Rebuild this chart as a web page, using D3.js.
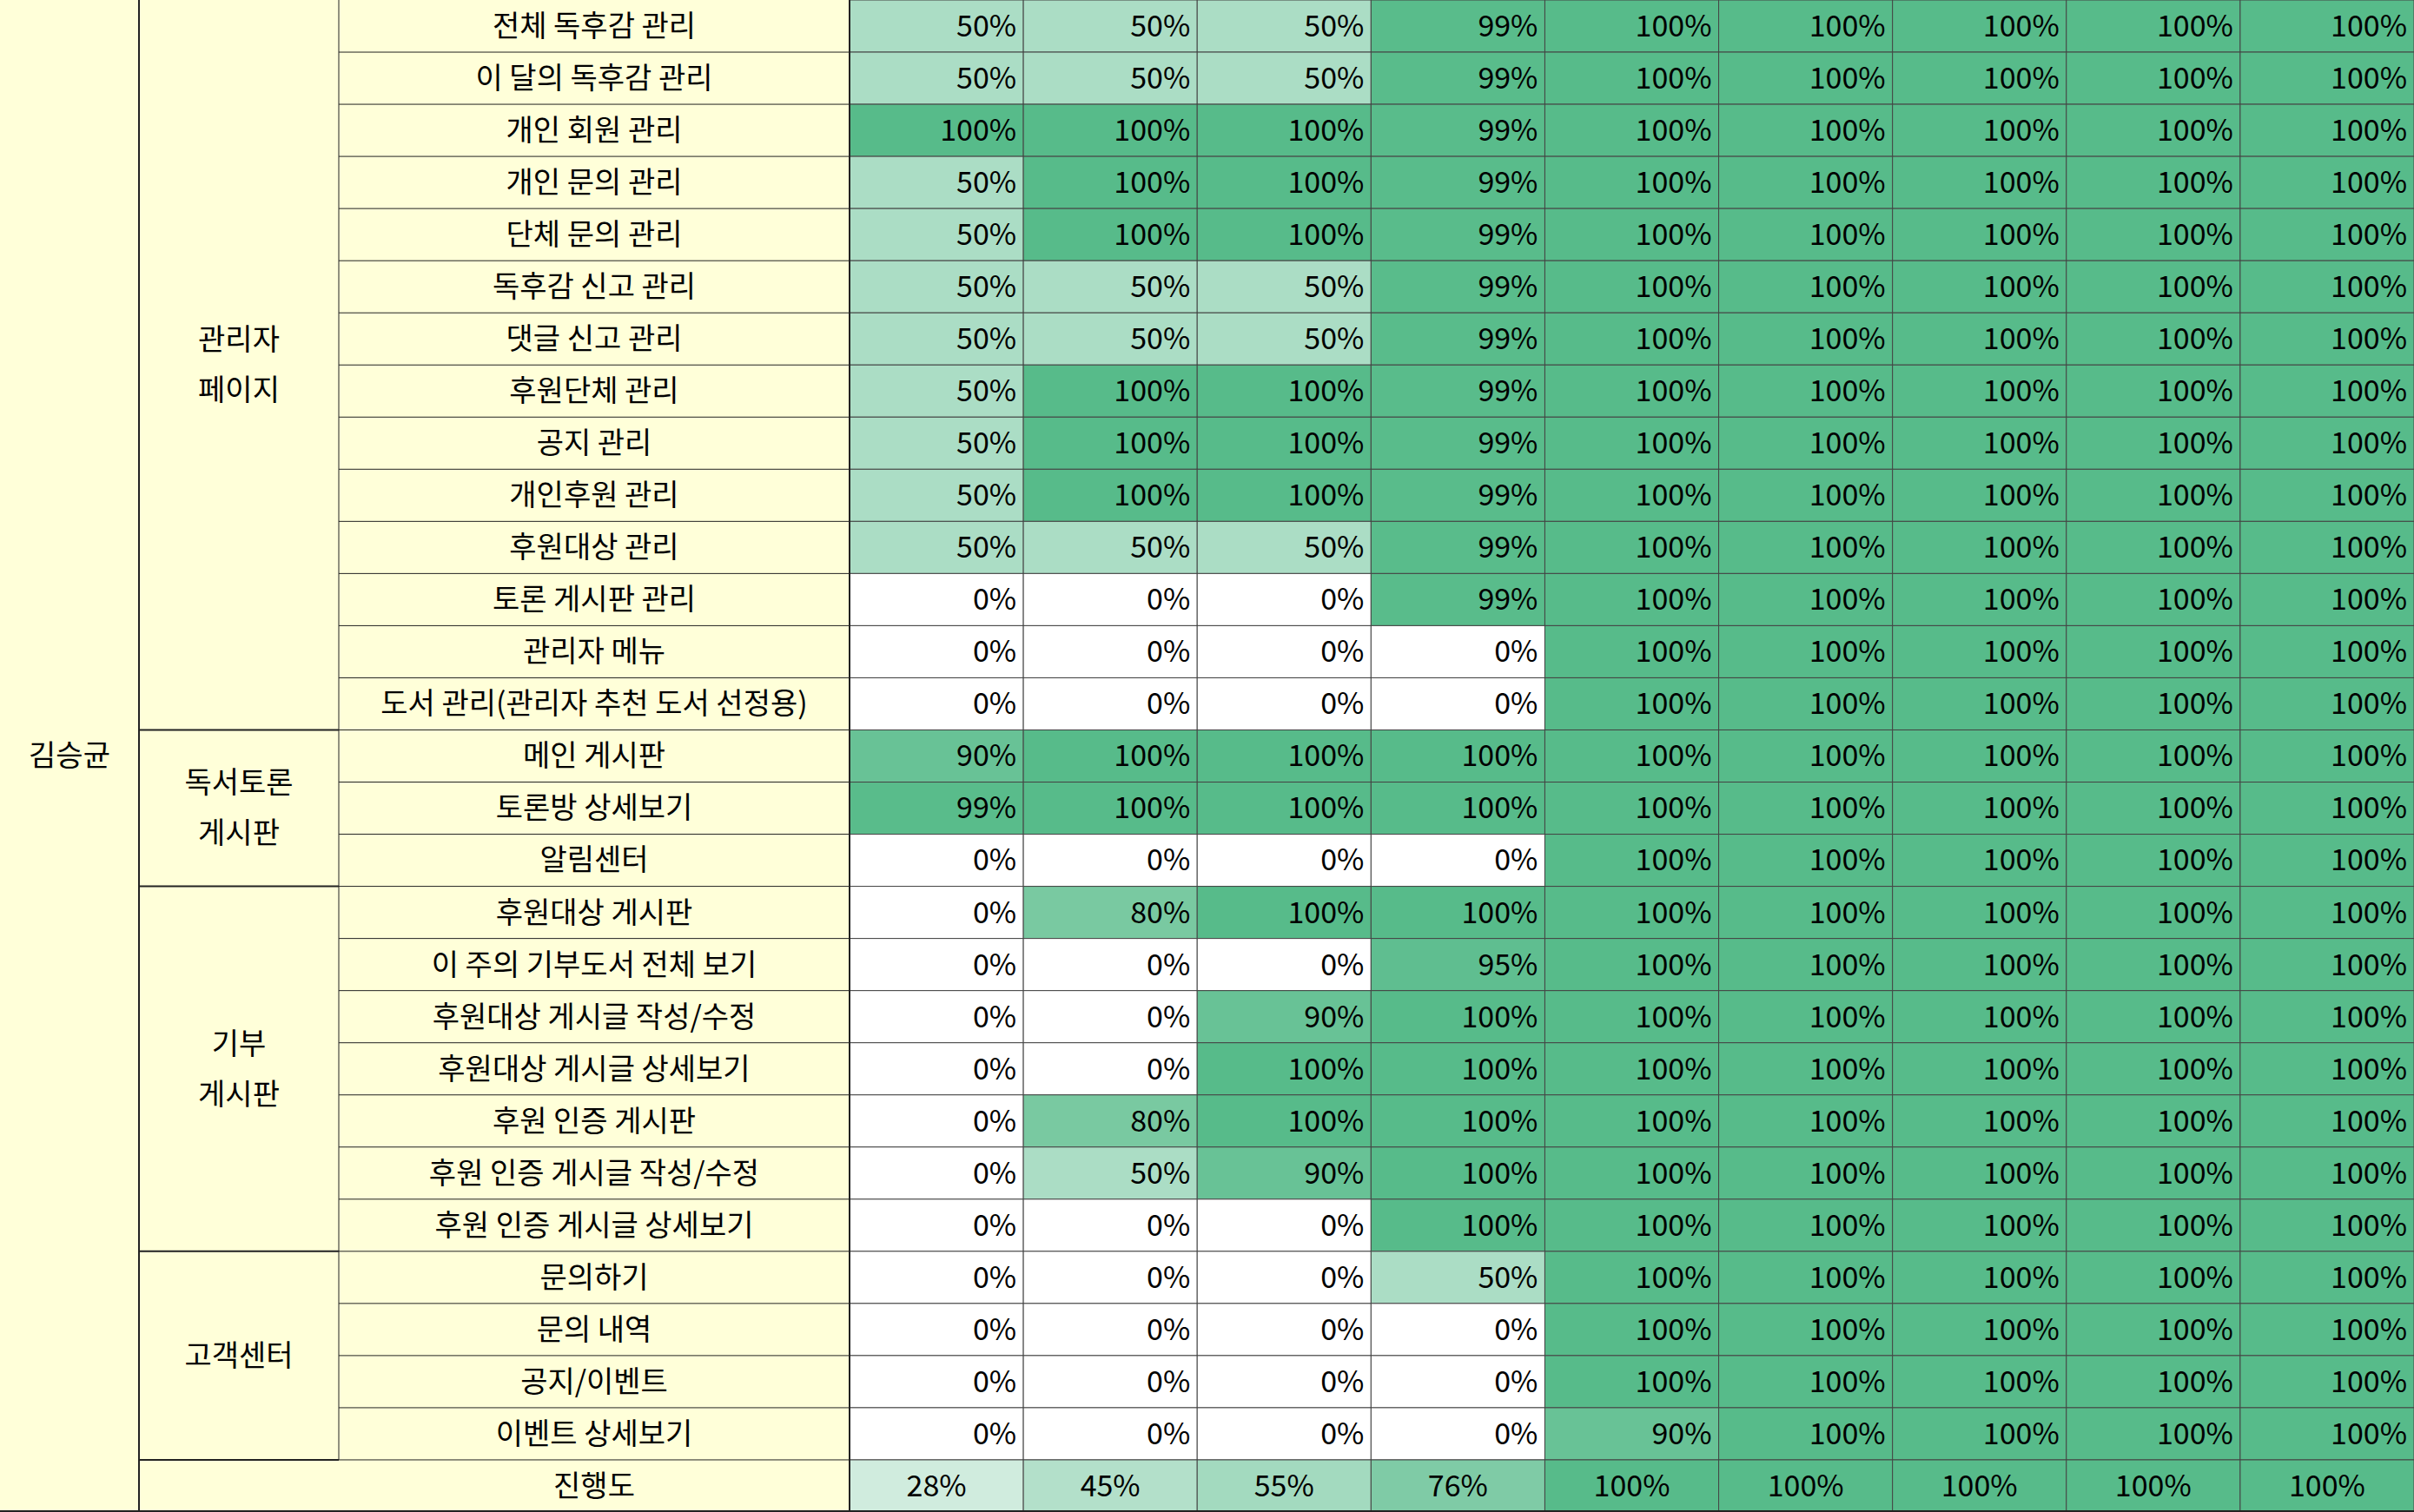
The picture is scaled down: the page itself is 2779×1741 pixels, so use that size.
<!DOCTYPE html><html><head><meta charset="utf-8">
<script src="https://cdn.jsdelivr.net/npm/d3@7"></script>
<style>body{margin:0;background:#fff}</style></head><body>
<svg id="c" width="2779" height="1741"></svg>
<script>
const person = "김승균";
const groups = [
 {name:["관리자","페이지"], count:14},
 {name:["독서토론","게시판"], count:3},
 {name:["기부","게시판"], count:7},
 {name:["고객센터"], count:4}
];
const items = ["전체 독후감 관리","이 달의 독후감 관리","개인 회원 관리","개인 문의 관리","단체 문의 관리","독후감 신고 관리","댓글 신고 관리","후원단체 관리","공지 관리","개인후원 관리","후원대상 관리","토론 게시판 관리","관리자 메뉴","도서 관리(관리자 추천 도서 선정용)",
"메인 게시판","토론방 상세보기","알림센터",
"후원대상 게시판","이 주의 기부도서 전체 보기","후원대상 게시글 작성/수정","후원대상 게시글 상세보기","후원 인증 게시판","후원 인증 게시글 작성/수정","후원 인증 게시글 상세보기",
"문의하기","문의 내역","공지/이벤트","이벤트 상세보기"];
const firstCols = [
 [50,50,50,99],[50,50,50,99],[100,100,100,99],[50,100,100,99],[50,100,100,99],[50,50,50,99],[50,50,50,99],[50,100,100,99],[50,100,100,99],[50,100,100,99],[50,50,50,99],[0,0,0,99],[0,0,0,0],[0,0,0,0],
 [90,100,100,100],[99,100,100,100],[0,0,0,0],
 [0,80,100,100],[0,0,0,95],[0,0,90,100],[0,0,100,100],[0,80,100,100],[0,50,90,100],[0,0,0,100],
 [0,0,0,50],[0,0,0,0],[0,0,0,0],[0,0,0,0]];
const col5 = [100,100,100,100,100,100,100,100,100,100,100,100,100,100,100,100,100,100,100,100,100,100,100,100,100,100,100,90];
const progress = [28,45,55,76,100,100,100,100,100];
const progressLabel = "진행도";
const values = firstCols.map((r,i)=>r.concat([col5[i],100,100,100,100]));

const svg = d3.select("#c");
const font = "'Noto Sans CJK KR','Noto Sans',sans-serif";
const nRows = items.length+1;
const y = d3.scaleBand().domain(d3.range(nRows)).range([0,1741]);
const x = d3.scaleBand().domain(d3.range(9)).range([978,2779]);
const color = d3.scaleLinear().domain([0,100]).range(["#ffffff","#57bb8a"]);
const yellow = "#ffffd9";
const rh = y.bandwidth();
// label backgrounds
svg.append("rect").attr("x",0).attr("y",0).attr("width",160).attr("height",1741).attr("fill",yellow);
svg.append("rect").attr("x",160).attr("y",0).attr("width",818).attr("height",1741).attr("fill",yellow);
// cells
values.forEach((row,i)=>row.forEach((v,j)=>{
  svg.append("rect").attr("x",x(j)).attr("y",y(i)).attr("width",x.bandwidth()).attr("height",rh).attr("fill",color(v)).attr("stroke","#444").attr("stroke-width",1);
  svg.append("text").attr("x",x(j)+x.bandwidth()-8).attr("y",y(i)+rh/2).attr("dy","0.35em").attr("text-anchor","end").attr("font-family",font).attr("font-size",34).text(v+"%");
}));
progress.forEach((v,j)=>{
  const i=nRows-1;
  svg.append("rect").attr("x",x(j)).attr("y",y(i)).attr("width",x.bandwidth()).attr("height",rh).attr("fill",color(v)).attr("stroke","#444");
  svg.append("text").attr("x",x(j)+x.bandwidth()/2).attr("y",y(i)+rh/2).attr("dy","0.35em").attr("text-anchor","middle").attr("font-family",font).attr("font-size",34).text(v+"%");
});
// item labels
items.forEach((t,i)=>{
  svg.append("line").attr("x1",390).attr("x2",978).attr("y1",y(i)+rh).attr("y2",y(i)+rh).attr("stroke","#222");
  svg.append("text").attr("x",684).attr("y",y(i)+rh/2).attr("dy","0.35em").attr("text-anchor","middle").attr("font-family",font).attr("font-size",34).text(t);
});
svg.append("line").attr("x1",390).attr("x2",390).attr("y1",0).attr("y2",y(nRows-1)).attr("stroke","#222");
// groups
let start=0;
groups.forEach(g=>{
  const y0=y(start), y1=y(start+g.count-1)+rh;
  svg.append("line").attr("x1",160).attr("x2",390).attr("y1",y1).attr("y2",y1).attr("stroke","#222").attr("stroke-width",2);
  const t=svg.append("text").attr("x",275).attr("text-anchor","middle").attr("font-family",font).attr("font-size",34);
  const mid=(y0+y1)/2, lh=58, off=-(g.name.length-1)*lh/2;
  g.name.forEach((s,k)=>t.append("tspan").attr("x",275).attr("y",mid+off+k*lh).attr("dy","0.35em").text(s));
  start+=g.count;
});
svg.append("text").attr("x",684).attr("y",y(nRows-1)+rh/2).attr("dy","0.35em").attr("text-anchor","middle").attr("font-family",font).attr("font-size",34).text(progressLabel);
svg.append("text").attr("x",80).attr("y",y(14)+rh/2).attr("dy","0.35em").attr("text-anchor","middle").attr("font-family",font).attr("font-size",34).text(person);
svg.append("line").attr("x1",160).attr("x2",160).attr("y1",0).attr("y2",1741).attr("stroke","#222").attr("stroke-width",2);
svg.append("line").attr("x1",0).attr("x2",2779).attr("y1",1740).attr("y2",1740).attr("stroke","#222").attr("stroke-width",2);
svg.append("line").attr("x1",978).attr("x2",978).attr("y1",0).attr("y2",1741).attr("stroke","#222").attr("stroke-width",2);
</script></body></html>
